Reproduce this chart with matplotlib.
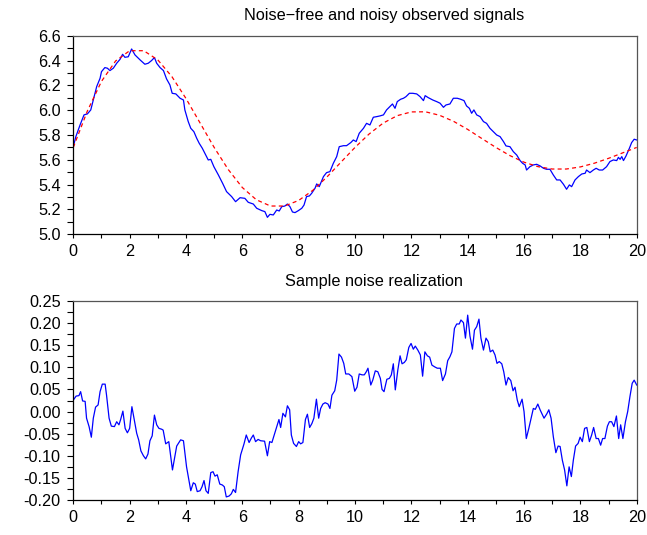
import matplotlib
matplotlib.use("Agg")
import matplotlib.pyplot as plt
from matplotlib.ticker import MultipleLocator, FormatStrFormatter

plt.rcParams['font.family'] = ['Liberation Sans', 'DejaVu Sans']
plt.rcParams['axes.unicode_minus'] = False

# Noise-free signal (sampled every 0.5)
sig_t = [0.0, 0.5, 1.0, 1.5, 2.0, 2.5, 3.0, 3.5, 4.0, 4.5, 5.0, 5.5, 6.0, 6.5, 7.0,
         7.5, 8.0, 8.5, 9.0, 9.5, 10.0, 10.5, 11.0, 11.5, 12.0, 12.5, 13.0, 13.5,
         14.0, 14.5, 15.0, 15.5, 16.0, 16.5, 17.0, 17.5, 18.0, 18.5, 19.0, 19.5, 20.0]
sig_v = [5.700, 5.994, 6.232, 6.396, 6.479, 6.479, 6.405, 6.270, 6.094, 5.897,
         5.700, 5.522, 5.377, 5.278, 5.228, 5.228, 5.273, 5.354, 5.461, 5.581,
         5.700, 5.808, 5.896, 5.956, 5.986, 5.987, 5.959, 5.910, 5.845, 5.772,
         5.700, 5.634, 5.581, 5.545, 5.526, 5.526, 5.543, 5.573, 5.612, 5.656, 5.700]

# Noisy observed signal
obs_t = [0.00, 0.09, 0.24, 0.38, 0.50, 0.62, 0.83, 0.95, 1.00, 1.12, 1.21, 1.30, 1.42,
         1.54, 1.66, 1.75, 1.83, 1.95, 2.07, 2.19, 2.37, 2.54, 2.66, 2.78, 2.88, 2.96,
         3.08, 3.20, 3.31, 3.43, 3.51, 3.64, 3.79, 3.91, 3.96, 4.08, 4.17, 4.28, 4.38,
         4.47, 4.58, 4.67, 4.79, 4.88, 4.99, 5.15, 5.30, 5.44, 5.62, 5.76, 5.92, 6.09,
         6.21, 6.39, 6.51, 6.69, 6.80, 6.89, 6.98, 7.10, 7.22, 7.31, 7.40, 7.51, 7.60,
         7.69, 7.78, 7.87, 7.99, 8.11, 8.19, 8.28, 8.38, 8.46, 8.58, 8.64, 8.73, 8.88,
         8.99, 9.11, 9.23, 9.35, 9.44, 9.59, 9.70, 9.85, 9.94, 10.04, 10.15, 10.30,
         10.41, 10.53, 10.65, 10.77, 10.89, 11.01, 11.12, 11.24, 11.33, 11.42, 11.50,
         11.62, 11.72, 11.81, 11.93, 12.05, 12.19, 12.31, 12.43, 12.49, 12.60, 12.76,
         12.90, 13.02, 13.14, 13.23, 13.37, 13.49, 13.63, 13.75, 13.87, 13.96, 14.06,
         14.14, 14.22, 14.32, 14.44, 14.56, 14.67, 14.79, 14.91, 15.03, 15.15, 15.27,
         15.36, 15.50, 15.62, 15.74, 15.86, 15.95, 16.04, 16.09, 16.21, 16.33, 16.45,
         16.57, 16.69, 16.80, 16.92, 17.04, 17.16, 17.28, 17.40, 17.51, 17.61, 17.69,
         17.81, 17.93, 18.05, 18.17, 18.22, 18.34, 18.46, 18.56, 18.67, 18.79, 18.93,
         19.05, 19.17, 19.29, 19.35, 19.41, 19.47, 19.53, 19.62, 19.74, 19.82, 19.91,
         20.00]
obs_v = [5.706, 5.787, 5.881, 5.962, 5.970, 6.002, 6.190, 6.257, 6.310, 6.343, 6.338,
         6.319, 6.338, 6.378, 6.410, 6.450, 6.426, 6.430, 6.493, 6.445, 6.405, 6.370,
         6.378, 6.400, 6.424, 6.378, 6.343, 6.319, 6.252, 6.203, 6.136, 6.131, 6.096,
         6.082, 6.002, 5.908, 5.854, 5.827, 5.774, 5.733, 5.693, 5.653, 5.599, 5.604,
         5.545, 5.478, 5.411, 5.344, 5.304, 5.263, 5.295, 5.290, 5.258, 5.244, 5.210,
         5.191, 5.183, 5.137, 5.161, 5.156, 5.196, 5.188, 5.223, 5.228, 5.244, 5.223,
         5.180, 5.175, 5.191, 5.210, 5.236, 5.304, 5.309, 5.330, 5.371, 5.406, 5.384,
         5.465, 5.497, 5.505, 5.572, 5.626, 5.706, 5.714, 5.714, 5.739, 5.760, 5.747,
         5.814, 5.854, 5.894, 5.881, 5.943, 5.948, 5.954, 5.962, 6.002, 6.029, 6.050,
         6.015, 6.069, 6.088, 6.096, 6.109, 6.136, 6.136, 6.131, 6.109, 6.077, 6.117,
         6.101, 6.082, 6.069, 6.056, 6.023, 6.042, 6.050, 6.096, 6.096, 6.088, 6.077,
         6.034, 6.015, 5.975, 6.002, 5.962, 5.948, 5.908, 5.894, 5.854, 5.827, 5.800,
         5.787, 5.747, 5.712, 5.706, 5.666, 5.639, 5.594, 5.572, 5.559, 5.518, 5.545,
         5.559, 5.564, 5.551, 5.532, 5.524, 5.524, 5.478, 5.438, 5.438, 5.403, 5.363,
         5.398, 5.384, 5.438, 5.465, 5.486, 5.492, 5.518, 5.497, 5.518, 5.532, 5.518,
         5.518, 5.545, 5.586, 5.599, 5.594, 5.620, 5.604, 5.626, 5.594, 5.631, 5.693,
         5.739, 5.766, 5.760]

# Noise realization
noise_t = [0.00, 0.10, 0.20, 0.26, 0.33, 0.42, 0.47, 0.56, 0.64, 0.71, 0.79, 0.88,
           0.95, 1.03, 1.13, 1.18, 1.27, 1.35, 1.46, 1.54, 1.62, 1.68, 1.76, 1.84,
           1.92, 2.00, 2.08, 2.17, 2.25, 2.32, 2.40, 2.49, 2.57, 2.65, 2.72, 2.80,
           2.88, 2.96, 3.04, 3.14, 3.19, 3.28, 3.39, 3.52, 3.67, 3.81, 3.91, 4.02,
           4.17, 4.26, 4.33, 4.40, 4.50, 4.57, 4.64, 4.71, 4.79, 4.88, 4.96, 5.03,
           5.11, 5.20, 5.29, 5.36, 5.43, 5.53, 5.61, 5.68, 5.76, 5.85, 5.94, 6.06,
           6.14, 6.24, 6.32, 6.39, 6.47, 6.56, 6.65, 6.79, 6.89, 6.97, 7.05, 7.15,
           7.23, 7.30, 7.36, 7.44, 7.53, 7.60, 7.68, 7.74, 7.82, 7.92, 8.00, 8.07,
           8.15, 8.24, 8.31, 8.39, 8.47, 8.54, 8.63, 8.71, 8.78, 8.86, 8.94, 9.04,
           9.11, 9.18, 9.28, 9.35, 9.43, 9.52, 9.60, 9.67, 9.78, 9.89, 9.99, 10.07,
           10.15, 10.25, 10.33, 10.40, 10.46, 10.56, 10.63, 10.72, 10.81, 10.90,
           10.96, 11.03, 11.13, 11.22, 11.29, 11.36, 11.43, 11.52, 11.60, 11.67,
           11.75, 11.82, 11.91, 11.99, 12.07, 12.14, 12.23, 12.32, 12.40, 12.48,
           12.57, 12.65, 12.73, 12.83, 12.92, 13.03, 13.11, 13.21, 13.29, 13.37,
           13.44, 13.53, 13.61, 13.70, 13.76, 13.85, 13.92, 14.00, 14.08, 14.17,
           14.24, 14.32, 14.40, 14.47, 14.56, 14.65, 14.73, 14.80, 14.89, 14.97,
           15.04, 15.12, 15.21, 15.28, 15.36, 15.44, 15.53, 15.61, 15.68, 15.76,
           15.83, 15.93, 16.00, 16.08, 16.17, 16.25, 16.33, 16.40, 16.49, 16.57,
           16.71, 16.81, 16.88, 16.96, 17.04, 17.13, 17.21, 17.28, 17.36, 17.44,
           17.52, 17.60, 17.68, 17.75, 17.83, 17.92, 17.99, 18.07, 18.15, 18.23,
           18.32, 18.40, 18.47, 18.56, 18.64, 18.72, 18.79, 18.87, 18.96, 19.03,
           19.11, 19.19, 19.28, 19.36, 19.43, 19.51, 19.60, 19.68, 19.76, 19.84,
           19.91, 20.00]
noise_v = [0.026, 0.035, 0.036, 0.045, 0.024, 0.023, -0.015, -0.034, -0.058, -0.015,
           0.010, 0.015, 0.045, 0.062, 0.062, 0.037, -0.015, -0.033, -0.034, -0.023,
           -0.030, -0.018, 0.001, -0.038, -0.048, -0.038, 0.011, -0.021, -0.049,
           -0.064, -0.089, -0.100, -0.107, -0.096, -0.066, -0.055, -0.008, -0.030,
           -0.038, -0.040, -0.042, -0.073, -0.068, -0.132, -0.078, -0.064, -0.066,
           -0.125, -0.179, -0.161, -0.164, -0.181, -0.179, -0.170, -0.156, -0.179,
           -0.185, -0.138, -0.136, -0.146, -0.143, -0.164, -0.166, -0.170, -0.193,
           -0.191, -0.186, -0.176, -0.183, -0.136, -0.098, -0.073, -0.053, -0.070,
           -0.060, -0.053, -0.068, -0.063, -0.066, -0.067, -0.100, -0.068, -0.070,
           -0.049, -0.033, -0.018, -0.036, -0.004, -0.012, 0.013, 0.004, -0.053,
           -0.072, -0.079, -0.068, -0.073, -0.070, -0.018, -0.006, -0.036, -0.027,
           -0.015, 0.028, -0.015, 0.007, 0.017, 0.020, 0.017, 0.007, 0.037, 0.047,
           0.071, 0.130, 0.123, 0.109, 0.085, 0.085, 0.079, 0.046, 0.055, 0.085,
           0.083, 0.083, 0.090, 0.098, 0.060, 0.071, 0.092, 0.090, 0.075, 0.050,
           0.045, 0.073, 0.075, 0.083, 0.108, 0.049, 0.094, 0.126, 0.108, 0.111,
           0.117, 0.145, 0.154, 0.141, 0.148, 0.139, 0.128, 0.080, 0.135, 0.126,
           0.123, 0.105, 0.101, 0.098, 0.098, 0.070, 0.085, 0.115, 0.124, 0.135,
           0.188, 0.198, 0.198, 0.207, 0.201, 0.166, 0.218, 0.171, 0.141, 0.184,
           0.192, 0.209, 0.166, 0.139, 0.166, 0.158, 0.135, 0.139, 0.128, 0.109,
           0.113, 0.108, 0.090, 0.060, 0.077, 0.070, 0.047, 0.055, 0.026, 0.011,
           0.028, 0.000, -0.061, -0.038, -0.015, 0.007, 0.005, 0.017, 0.004, -0.015,
           -0.005, 0.004, -0.015, -0.057, -0.093, -0.078, -0.079, -0.110, -0.132,
           -0.168, -0.125, -0.147, -0.110, -0.078, -0.072, -0.058, -0.068, -0.038,
           -0.036, -0.068, -0.053, -0.036, -0.061, -0.061, -0.076, -0.061, -0.061,
           -0.033, -0.023, -0.023, -0.034, -0.010, -0.061, -0.030, -0.061, -0.023,
           0.000, 0.034, 0.064, 0.071, 0.060]

x_ticks_major = 2
x_ticks_minor = 1

FS = 11.7

fig = plt.figure(figsize=(6.47, 5.35), dpi=100)
ax1 = fig.add_axes([0.1133, 0.562, 0.8708, 0.3713])
ax2 = fig.add_axes([0.1133, 0.0654, 0.8708, 0.372])

ax1.plot(obs_t, obs_v, color='#0000ff', lw=0.9)
ax1.plot(sig_t, sig_v, color='#ff0000', lw=0.9, ls=(0, (3.2, 2.6)))
ax2.plot(noise_t, noise_v, color='#0000ff', lw=0.9)

ax1.set_xlim(0, 20)
ax1.set_ylim(5.0, 6.6)
ax2.set_xlim(0, 20)
ax2.set_ylim(-0.2, 0.25)

ax1.yaxis.set_major_locator(MultipleLocator(0.2))
ax1.yaxis.set_minor_locator(MultipleLocator(0.1))
ax1.yaxis.set_major_formatter(FormatStrFormatter('%.1f'))
ax2.yaxis.set_major_locator(MultipleLocator(0.05))
ax2.yaxis.set_minor_locator(MultipleLocator(0.025))
ax2.yaxis.set_major_formatter(FormatStrFormatter('%.2f'))

for ax in (ax1, ax2):
    ax.xaxis.set_major_locator(MultipleLocator(x_ticks_major))
    ax.xaxis.set_minor_locator(MultipleLocator(x_ticks_minor))
    ax.xaxis.set_major_formatter(FormatStrFormatter('%d'))
    ax.tick_params(axis='y', which='both', direction='out', length=4.2,
                   width=0.8, labelsize=FS, pad=5)
    ax.tick_params(axis='x', which='both', direction='out', length=3.0,
                   width=0.8, labelsize=FS, pad=4)
    ax.tick_params(top=False, right=False)
    for side in ('left', 'bottom'):
        ax.spines[side].set_color('black')
        ax.spines[side].set_linewidth(0.9)
    for side in ('top', 'right'):
        ax.spines[side].set_color('#555555')
        ax.spines[side].set_linewidth(0.9)

fig.text(244 / 647, 1 - 20 / 535, 'Noise\u2212free and noisy observed signals',
         fontsize=FS, ha='left', va='baseline')
fig.text(285 / 647, 1 - 286 / 535, 'Sample noise realization',
         fontsize=FS, ha='left', va='baseline')

fig.savefig('out.png', dpi=100)
